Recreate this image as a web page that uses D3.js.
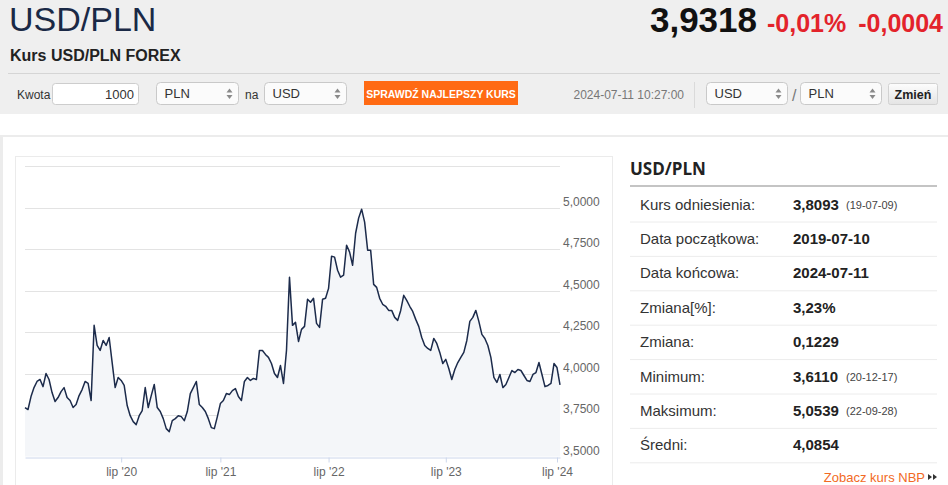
<!DOCTYPE html>
<html>
<head>
<meta charset="utf-8">
<script src="https://cdnjs.cloudflare.com/ajax/libs/d3/7.8.5/d3.min.js"></script>
<style>
  html, body { margin: 0; padding: 0; background: #fff; }
  body { width: 948px; height: 485px; overflow: hidden; }
  svg { display: block; font-family: "Liberation Sans", Arial, sans-serif; }
</style>
</head>
<body>
<svg id="page" width="948" height="485"></svg>
<script>
// USD/PLN, 5 lat (2019-07-10 .. 2024-07-11), punkty
var values = [
  3.795, 3.783, 3.861, 3.915, 3.952, 3.964, 3.921, 4.000, 3.964, 3.885,
  3.831, 3.855, 3.891, 3.915, 3.855, 3.837, 3.795, 3.813, 3.867, 3.903,
  3.952, 3.940, 3.837, 4.290, 4.169, 4.139, 4.199, 4.169, 4.217, 4.066,
  3.915, 3.976, 3.958, 3.928, 3.807, 3.746, 3.710, 3.692, 3.746, 3.777,
  3.915, 3.795, 3.867, 3.934, 3.795, 3.771, 3.728, 3.668, 3.650, 3.716,
  3.728, 3.746, 3.740, 3.716, 3.771, 3.879, 3.915, 3.952, 3.813, 3.795,
  3.771, 3.728, 3.674, 3.668, 3.740, 3.819, 3.837, 3.879, 3.873, 3.897,
  3.909, 3.861, 3.837, 3.952, 3.976, 3.958, 3.970, 3.964, 4.139, 4.139,
  4.115, 4.097, 4.060, 4.000, 3.976, 4.048, 3.940, 4.139, 4.580, 4.290,
  4.308, 4.193, 4.266, 4.284, 4.447, 4.429, 4.453, 4.302, 4.278, 4.447,
  4.453, 4.513, 4.707, 4.701, 4.622, 4.580, 4.592, 4.773, 4.731, 4.652,
  4.845, 4.936, 4.990, 4.912, 4.743, 4.743, 4.537, 4.519, 4.453, 4.417,
  4.405, 4.380, 4.380, 4.338, 4.320, 4.380, 4.471, 4.441, 4.405, 4.374,
  4.326, 4.284, 4.217, 4.169, 4.151, 4.139, 4.211, 4.181, 4.127, 4.060,
  4.085, 4.030, 3.964, 4.024, 4.066, 4.097, 4.127, 4.199, 4.314, 4.338,
  4.380, 4.314, 4.236, 4.211, 4.169, 4.097, 3.976, 3.946, 3.994, 3.915,
  3.934, 3.976, 4.018, 4.006, 4.024, 4.018, 3.988, 3.958, 3.952, 3.994,
  4.006, 4.066, 3.994, 3.921, 3.928, 3.940, 4.060, 4.036, 3.932
];

// os czasu jest porzadkowa (jak w Highstock): etykieta stoi przy numerze punktu
var tickLabels = ["lip '20", "lip '21", "lip '22", "lip '23", "lip '24"];
var tickIndex = [32, 65, 101, 140, 177];

var yLabelValues = [3.5, 3.75, 4.0, 4.25, 4.5, 4.75, 5.0];
var yGridValues = [3.75, 4.0, 4.25, 4.5, 4.75, 5.0, 5.25];

var statLabels = ["Kurs odniesienia:", "Data początkowa:", "Data końcowa:", "Zmiana[%]:",
                  "Zmiana:", "Minimum:", "Maksimum:", "Średni:"];
var statValues = ["3,8093", "2019-07-10", "2024-07-11", "3,23%", "0,1229", "3,6110", "5,0539", "4,0854"];
var statDates = ["(19-07-09)", "", "", "", "", "(20-12-17)", "(22-09-28)", ""];

var quote = { last: "3,9318", pct: "-0,01%", diff: "-0,0004", time: "2024-07-11 10:27:00" };

var plFormat = d3.formatLocale({ decimal: ",", thousands: " ", grouping: [3], currency: ["", " zł"] }).format(".4f");

var svg = d3.select("#page");

// ---------- naglowek ----------
var defs = svg.append("defs");
var grad = defs.append("linearGradient").attr("id", "btnGrad").attr("x1", 0).attr("y1", 0).attr("x2", 0).attr("y2", 1);
grad.append("stop").attr("offset", "0%").attr("stop-color", "#fdfdfd");
grad.append("stop").attr("offset", "100%").attr("stop-color", "#e4e4e4");

svg.append("rect").attr("x", 0).attr("y", 0).attr("width", 948).attr("height", 114).attr("fill", "#efefef");

svg.append("text").attr("x", 9).attr("y", 31).attr("font-size", 34).attr("fill", "#1a2946").text("USD/PLN");
svg.append("text").attr("x", 757).attr("y", 32).attr("text-anchor", "end").attr("font-size", 35)
  .attr("font-weight", "bold").attr("fill", "#111").text(quote.last);
svg.append("text").attr("x", 767).attr("y", 32).attr("font-size", 25).attr("font-weight", "bold")
  .attr("fill", "#e3232b").text(quote.pct);
svg.append("text").attr("x", 943).attr("y", 32).attr("text-anchor", "end").attr("font-size", 25)
  .attr("font-weight", "bold").attr("fill", "#e3232b").text(quote.diff);

svg.append("text").attr("x", 10).attr("y", 61).attr("font-size", 16).attr("font-weight", "bold")
  .attr("fill", "#222").text("Kurs USD/PLN FOREX");
svg.append("line").attr("x1", 8).attr("x2", 940).attr("y1", 73.5).attr("y2", 73.5).attr("stroke", "#d5d5d5");

function label(x, y, txt, opts) {
  opts = opts || {};
  return svg.append("text").attr("x", x).attr("y", y).attr("font-size", opts.size || 12)
    .attr("fill", opts.fill || "#333").attr("text-anchor", opts.anchor || "start")
    .attr("font-weight", opts.weight || "normal").text(txt);
}

function selectBox(x, w, txt) {
  var g = svg.append("g").attr("transform", "translate(" + x + ",82.5)");
  g.append("rect").attr("width", w).attr("height", 22).attr("rx", 4)
    .attr("fill", "#fbfbfb").attr("stroke", "#c9c9c9");
  g.append("text").attr("x", 8).attr("y", 15.5).attr("font-size", 13).attr("fill", "#333").text(txt);
  g.append("path").attr("d", "M" + (w - 12) + ",10 l3,-4 l3,4 z M" + (w - 12) + ",12.5 l3,4 l3,-4 z")
    .attr("fill", "#8a8a8a");
}

label(17, 99, "Kwota");
svg.append("rect").attr("x", 52.5).attr("y", 83.5).attr("width", 86).attr("height", 21).attr("rx", 3)
  .attr("fill", "#fff").attr("stroke", "#cdcdcd");
label(134, 99, "1000", { size: 13, anchor: "end" });
selectBox(156.5, 82, "PLN");
label(245, 99, "na");
selectBox(264.5, 82, "USD");

svg.append("rect").attr("x", 364).attr("y", 81).attr("width", 154).attr("height", 24).attr("fill", "#ff6a13");
label(441, 97.5, "SPRAWDŹ NAJLEPSZY KURS", { size: 10.5, weight: "bold", fill: "#fff", anchor: "middle" });

label(684, 99, quote.time, { anchor: "end", fill: "#777" });
svg.append("line").attr("x1", 694.5).attr("x2", 694.5).attr("y1", 82).attr("y2", 108).attr("stroke", "#dadada");
selectBox(706.5, 81, "USD");
label(792, 101, "/", { size: 16, fill: "#777" });
selectBox(800.5, 81, "PLN");
svg.append("rect").attr("x", 888.5).attr("y", 83.5).attr("width", 49).attr("height", 21).attr("rx", 2)
  .attr("fill", "url(#btnGrad)").attr("stroke", "#d2d2d2");
label(913, 98.5, "Zmień", { size: 12.5, weight: "bold", fill: "#222", anchor: "middle" });

// ---------- ramki ----------
svg.append("rect").attr("x", 0).attr("y", 135).attr("width", 948).attr("height", 2).attr("fill", "#ececec");
svg.append("rect").attr("x", 0).attr("y", 135).attr("width", 3).attr("height", 350).attr("fill", "#ececec");
svg.append("rect").attr("x", 15.5).attr("y", 156.5).attr("width", 597).attr("height", 340)
  .attr("fill", "#fff").attr("stroke", "#ebebeb");

// ---------- wykres ----------
var x = d3.scaleLinear().domain([0, values.length - 1]).range([25, 560]);
var y = d3.scaleLinear().domain([3.5, 5.25]).range([456.5, 166]);

var chart = svg.append("g");

chart.selectAll("line.grid").data(yGridValues).join("line")
  .attr("class", "grid")
  .attr("x1", x.range()[0]).attr("x2", x.range()[1])
  .attr("y1", function(d) { return Math.round(y(d)) + 0.5; })
  .attr("y2", function(d) { return Math.round(y(d)) + 0.5; })
  .attr("stroke", "#e3e3e3");

var area = d3.area()
  .x(function(d, i) { return x(i); })
  .y0(y(3.5))
  .y1(function(d) { return y(d); });

var line = d3.line()
  .x(function(d, i) { return x(i); })
  .y(function(d) { return y(d); });

chart.append("path").datum(values).attr("d", area).attr("fill", "#f4f6f9");
chart.append("path").datum(values).attr("d", line).attr("fill", "none")
  .attr("stroke", "#1c2b4b").attr("stroke-width", 1.5).attr("stroke-linejoin", "round");

var xAxis = d3.axisBottom(x)
  .tickValues(tickIndex)
  .tickFormat(function(d, i) { return tickLabels[i]; })
  .tickSize(5).tickSizeOuter(0).tickPadding(5);

var gx = chart.append("g").attr("transform", "translate(0," + (Math.round(y(3.5)) + 0.5) + ")").call(xAxis);
gx.select(".domain").attr("stroke", "#ccd6eb");
gx.selectAll(".tick line").attr("stroke", "#ccd6eb");
gx.selectAll(".tick text").attr("fill", "#666").attr("font-size", 12)
  .attr("font-family", "\"Liberation Sans\", Arial, sans-serif");

chart.selectAll("text.ylab").data(yLabelValues).join("text")
  .attr("class", "ylab")
  .attr("x", 563)
  .attr("y", function(d) { return y(d) - 2; })
  .attr("font-size", 12).attr("fill", "#666")
  .text(function(d) { return plFormat(d); });

// ---------- tabela ----------
svg.append("text").attr("x", 630).attr("y", 175).attr("font-family", "\"Open Sans\", sans-serif")
  .attr("font-size", 17).attr("font-weight", "bold").attr("fill", "#222").text("USD/PLN");
svg.append("rect").attr("x", 630).attr("y", 185).attr("width", 307).attr("height", 2).attr("fill", "#c4c4c4");

var rows = svg.append("g").selectAll("g").data(statLabels).join("g")
  .attr("transform", function(d, i) { return "translate(0," + (204 + i * 34.4) + ")"; });

rows.append("text").attr("x", 640).attr("y", 5.5).attr("font-size", 15).attr("fill", "#333")
  .text(function(d) { return d; });
rows.append("text").attr("x", 793).attr("y", 5.5).attr("font-size", 15).attr("font-weight", "bold")
  .attr("fill", "#222").text(function(d, i) { return statValues[i]; });
rows.append("text").attr("x", 846).attr("y", 5).attr("font-size", 11).attr("fill", "#444")
  .text(function(d, i) { return statDates[i]; });
rows.append("line").attr("x1", 630).attr("x2", 937).attr("y1", 18).attr("y2", 18).attr("stroke", "#ececec");

svg.append("text").attr("x", 925).attr("y", 482).attr("text-anchor", "end").attr("font-size", 13)
  .attr("fill", "#f26a24").text("Zobacz kurs NBP");
svg.append("path").attr("d", "M928,474 l4,3 l-4,3 z M933,474 l4,3 l-4,3 z").attr("fill", "#333");
</script>
</body>
</html>
